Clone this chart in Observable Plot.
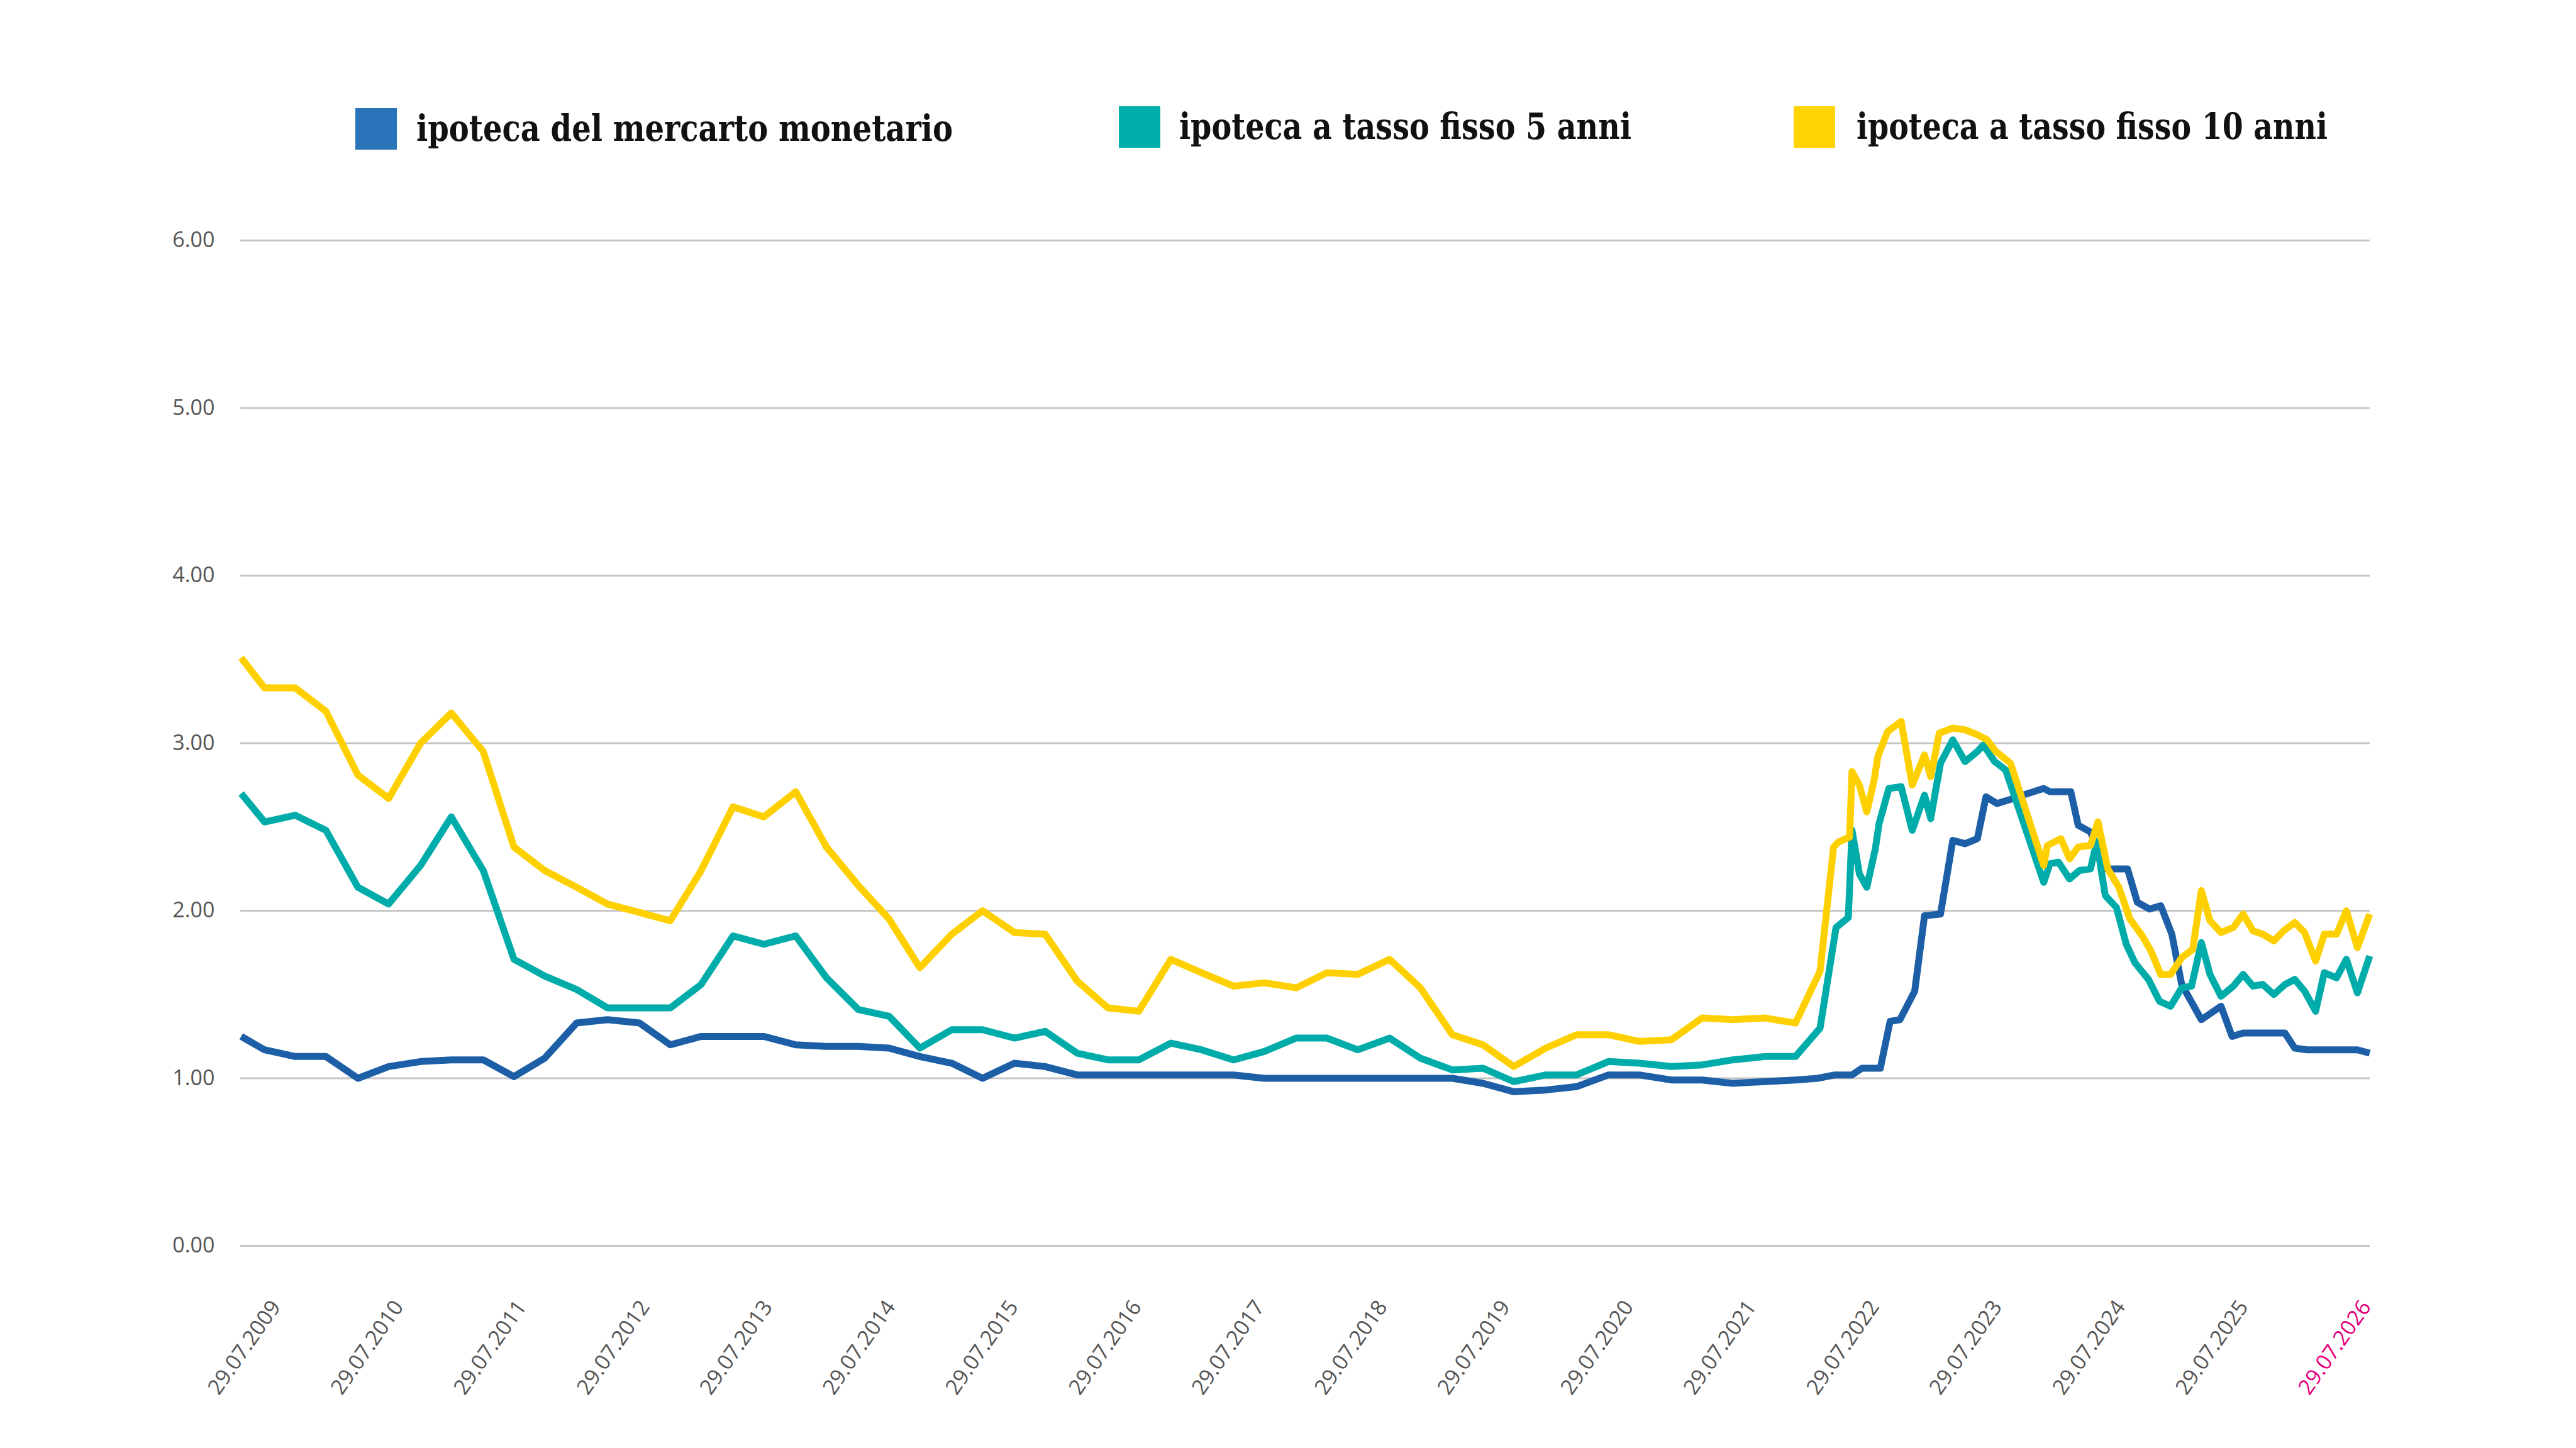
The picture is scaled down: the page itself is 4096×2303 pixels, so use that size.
<!DOCTYPE html>
<html>
<head>
<meta charset="utf-8">
<script src="https://cdn.jsdelivr.net/npm/d3@7"></script>
<script src="https://cdn.jsdelivr.net/npm/@observablehq/plot@0.6"></script>
<style>
  html, body { margin: 0; padding: 0; background: #ffffff; }
  #wrap { width: 4096px; }
  #legend, #chart { display: block; line-height: 0; }
  svg { display: block; }
</style>
</head>
<body>
<div id="wrap">
  <div id="legend"></div>
  <div id="chart"></div>
</div>
<script>
// ---------- data ----------
// quarterly observations, dates as decimal years
const quarterYears = [
  2009.26, 2009.45, 2009.70, 2009.95, 2010.21, 2010.46, 2010.72, 2010.97, 2011.23, 2011.48,
  2011.73, 2011.99, 2012.24, 2012.50, 2012.75, 2013.00, 2013.26, 2013.51, 2013.77, 2014.02,
  2014.28, 2014.53, 2014.78, 2015.04, 2015.29, 2015.55, 2015.80, 2016.06, 2016.31, 2016.56,
  2016.82, 2017.07, 2017.33, 2017.58, 2017.84, 2018.09, 2018.34, 2018.60, 2018.85, 2019.11,
  2019.36, 2019.61, 2019.87, 2020.12, 2020.38, 2020.63, 2020.89, 2021.14, 2021.39, 2021.65,
  2021.90
];
const moneyQuarterly = [
  1.25, 1.17, 1.13, 1.13, 1.00, 1.07, 1.10, 1.11, 1.11, 1.01, 1.12, 1.33, 1.35, 1.33, 1.20,
  1.25, 1.25, 1.25, 1.20, 1.19, 1.19, 1.18, 1.13, 1.09, 1.00, 1.09, 1.07, 1.02, 1.02,
  1.02, 1.02, 1.02, 1.02, 1.00, 1.00, 1.00, 1.00, 1.00, 1.00, 1.00, 0.97, 0.92, 0.93,
  0.95, 1.02, 1.02, 0.99, 0.99, 0.97, 0.98, 0.99
];
const fixed5Quarterly = [
  2.70, 2.53, 2.57, 2.48, 2.14, 2.04, 2.27, 2.56, 2.24, 1.71, 1.61, 1.53, 1.42, 1.42, 1.42,
  1.56, 1.85, 1.80, 1.85, 1.60, 1.41, 1.37, 1.18, 1.29, 1.29, 1.24, 1.28, 1.15, 1.11,
  1.11, 1.21, 1.17, 1.11, 1.16, 1.24, 1.24, 1.17, 1.24, 1.12, 1.05, 1.06, 0.98, 1.02,
  1.02, 1.10, 1.09, 1.07, 1.08, 1.11, 1.13, 1.13
];
const fixed10Quarterly = [
  3.51, 3.33, 3.33, 3.19, 2.81, 2.67, 3.00, 3.18, 2.95, 2.38, 2.24, 2.14, 2.04, 1.99, 1.94,
  2.24, 2.62, 2.56, 2.71, 2.38, 2.15, 1.95, 1.66, 1.86, 2.00, 1.87, 1.86, 1.58, 1.42,
  1.40, 1.71, 1.63, 1.55, 1.57, 1.54, 1.63, 1.62, 1.71, 1.54, 1.26, 1.20, 1.07, 1.18,
  1.26, 1.26, 1.22, 1.23, 1.36, 1.35, 1.36, 1.33
];

// denser recent observations
const moneyRecentYears = [
  2022.08, 2022.22, 2022.36, 2022.44, 2022.59, 2022.67, 2022.75, 2022.87, 2022.95, 2023.08,
  2023.18, 2023.28, 2023.38, 2023.45, 2023.54, 2023.63, 2023.75, 2023.92, 2023.97, 2024.14,
  2024.20, 2024.30, 2024.43, 2024.60, 2024.68, 2024.78, 2024.87, 2024.96, 2025.04, 2025.20,
  2025.28, 2025.36, 2025.45, 2025.54, 2025.88, 2025.96, 2026.06, 2026.47, 2026.57
];
const moneyRecent = [
  1.00, 1.02, 1.02, 1.06, 1.06, 1.34, 1.35, 1.52, 1.97, 1.98,
  2.42, 2.40, 2.43, 2.68, 2.64, 2.66, 2.69, 2.73, 2.71, 2.71,
  2.51, 2.47, 2.25, 2.25, 2.05, 2.01, 2.03, 1.86, 1.56, 1.35,
  1.39, 1.43, 1.25, 1.27, 1.27, 1.18, 1.17, 1.17, 1.15
];
const fixed5RecentYears = [
  2022.10, 2022.23, 2022.33, 2022.36, 2022.42, 2022.48, 2022.55, 2022.58, 2022.66, 2022.76,
  2022.85, 2022.95, 2023.00, 2023.08, 2023.18, 2023.28, 2023.38, 2023.43, 2023.52, 2023.54,
  2023.61, 2023.92, 2023.97, 2024.04, 2024.13, 2024.21, 2024.30, 2024.35, 2024.42, 2024.51,
  2024.59, 2024.66, 2024.77, 2024.86, 2024.95, 2025.04, 2025.12, 2025.20, 2025.27, 2025.36,
  2025.46, 2025.54, 2025.62, 2025.70, 2025.79, 2025.88, 2025.96, 2026.04, 2026.13, 2026.20,
  2026.30, 2026.38, 2026.47, 2026.57
];
const fixed5Recent = [
  1.30, 1.90, 1.96, 2.48, 2.22, 2.14, 2.37, 2.52, 2.73, 2.74,
  2.48, 2.69, 2.55, 2.88, 3.02, 2.89, 2.95, 2.99, 2.89, 2.88,
  2.84, 2.17, 2.28, 2.29, 2.19, 2.24, 2.25, 2.41, 2.09, 2.02,
  1.80, 1.69, 1.59, 1.46, 1.43, 1.54, 1.55, 1.81, 1.62, 1.49,
  1.55, 1.62, 1.55, 1.56, 1.50, 1.56, 1.59, 1.52, 1.40, 1.63,
  1.60, 1.71, 1.51, 1.73
];
const fixed10RecentYears = [
  2022.10, 2022.21, 2022.25, 2022.34, 2022.36, 2022.42, 2022.48, 2022.54, 2022.57, 2022.65,
  2022.76, 2022.85, 2022.95, 2023.00, 2023.07, 2023.18, 2023.28, 2023.38, 2023.46, 2023.53,
  2023.55, 2023.65, 2023.92, 2023.95, 2024.06, 2024.13, 2024.20, 2024.30, 2024.36, 2024.44,
  2024.53, 2024.62, 2024.72, 2024.79, 2024.87, 2024.95, 2025.04, 2025.13, 2025.20, 2025.27,
  2025.36, 2025.46, 2025.54, 2025.62, 2025.70, 2025.79, 2025.87, 2025.96, 2026.04, 2026.13,
  2026.20, 2026.30, 2026.38, 2026.47, 2026.57
];
const fixed10Recent = [
  1.64, 2.38, 2.41, 2.44, 2.83, 2.75, 2.59, 2.78, 2.92, 3.07,
  3.13, 2.75, 2.93, 2.80, 3.06, 3.09, 3.08, 3.05, 3.02, 2.95,
  2.94, 2.88, 2.27, 2.39, 2.43, 2.31, 2.38, 2.39, 2.53, 2.25,
  2.14, 1.95, 1.85, 1.76, 1.62, 1.62, 1.72, 1.77, 2.12, 1.94,
  1.87, 1.90, 1.98, 1.88, 1.86, 1.82, 1.88, 1.93, 1.87, 1.70,
  1.86, 1.86, 2.00, 1.78, 1.98
];

const seriesNames = [
  "ipoteca del mercarto monetario",
  "ipoteca a tasso fisso 5 anni",
  "ipoteca a tasso fisso 10 anni"
];
const lineColors   = ["#1d5fa7", "#00aca9", "#ffd000"];
const swatchColors = ["#2a75ba", "#00aeab", "#ffd400"];

const tickLabels = [
  "29.07.2009", "29.07.2010", "29.07.2011", "29.07.2012", "29.07.2013", "29.07.2014",
  "29.07.2015", "29.07.2016", "29.07.2017", "29.07.2018", "29.07.2019", "29.07.2020",
  "29.07.2021", "29.07.2022", "29.07.2023", "29.07.2024", "29.07.2025", "29.07.2026"
];
const yTicks = [0, 1, 2, 3, 4, 5, 6];
const domainStartYear = 2009.255;

// ---------- helpers ----------
function yearToDate(y) {
  const yr = Math.floor(y);
  const a = Date.UTC(yr, 0, 1), b = Date.UTC(yr + 1, 0, 1);
  return new Date(a + (y - yr) * (b - a));
}
const parseTick = d3.utcParse("%d.%m.%Y");
const tickDates = tickLabels.map(parseTick);

function buildSeries(name, qVals, rYears, rVals) {
  const rows = quarterYears.map((y, i) => ({series: name, date: yearToDate(y), value: qVals[i]}));
  rYears.forEach((y, i) => rows.push({series: name, date: yearToDate(y), value: rVals[i]}));
  return rows;
}
const moneyRows   = buildSeries(seriesNames[0], moneyQuarterly,   moneyRecentYears,   moneyRecent);
const fixed5Rows  = buildSeries(seriesNames[1], fixed5Quarterly,  fixed5RecentYears,  fixed5Recent);
const fixed10Rows = buildSeries(seriesNames[2], fixed10Quarterly, fixed10RecentYears, fixed10Recent);

// ---------- legend ----------
const legendX     = [565, 1779, 2852];
const legendTextX = [662, 1875, 2952];
const legendTextW = [853, 719, 749];
const legendSvg = d3.create("svg")
  .attr("width", 4096).attr("height", 300)
  .attr("viewBox", "0 0 4096 300");
seriesNames.forEach((name, i) => {
  const dy = i === 0 ? 3 : 0;
  legendSvg.append("rect")
    .attr("x", legendX[i]).attr("y", 169 + dy)
    .attr("width", 66).attr("height", 66)
    .attr("fill", swatchColors[i]);
  legendSvg.append("text")
    .attr("x", legendTextX[i]).attr("y", 221 + dy)
    .attr("font-family", "'DejaVu Serif', serif")
    .attr("font-size", 57)
    .attr("font-weight", "bold")
    .attr("fill", "#111111")
    .attr("textLength", legendTextW[i])
    .attr("lengthAdjust", "spacingAndGlyphs")
    .text(name);
});
document.getElementById("legend").appendChild(legendSvg.node());

// ---------- chart ----------
const chart = Plot.plot({
  width: 4096,
  height: 2003,
  marginTop: 82,
  marginBottom: 322,
  marginLeft: 382,
  marginRight: 328,
  style: {fontFamily: "'Open Sans', sans-serif", background: "#ffffff", overflow: "visible"},
  x: {type: "utc", domain: [yearToDate(domainStartYear), tickDates[tickDates.length - 1]]},
  y: {domain: [0, 6]},
  marks: [
    Plot.gridY(yTicks, {stroke: "#c6c6c6", strokeOpacity: 1, strokeWidth: 3}),
    Plot.axisY(yTicks, {
      tickFormat: d3.format(".2f"), tickSize: 0, tickPadding: 41,
      fontSize: 34, color: "#555555", label: null
    }),
    Plot.axisX({ticks: [], label: null, tickSize: 0}),
    Plot.text(tickDates.slice(0, -1), {
      x: d => d, text: (d, i) => tickLabels[i],
      frameAnchor: "bottom", dx: 3, dy: 97, rotate: -55,
      textAnchor: "end", lineAnchor: "bottom", fontSize: 34, fill: "#555555"
    }),
    Plot.text(tickDates.slice(-1), {
      x: d => d, text: () => tickLabels[tickLabels.length - 1],
      frameAnchor: "bottom", dx: 3, dy: 97, rotate: -55,
      textAnchor: "end", lineAnchor: "bottom", fontSize: 34, fill: "#e5007d"
    }),
    Plot.line(moneyRows,   {x: "date", y: "value", stroke: lineColors[0], strokeWidth: 11, strokeLinejoin: "round", strokeLinecap: "butt"}),
    Plot.line(fixed5Rows,  {x: "date", y: "value", stroke: lineColors[1], strokeWidth: 11, strokeLinejoin: "round", strokeLinecap: "butt"}),
    Plot.line(fixed10Rows, {x: "date", y: "value", stroke: lineColors[2], strokeWidth: 11, strokeLinejoin: "round", strokeLinecap: "butt"})
  ]
});
document.getElementById("chart").appendChild(chart);
</script>
</body>
</html>
